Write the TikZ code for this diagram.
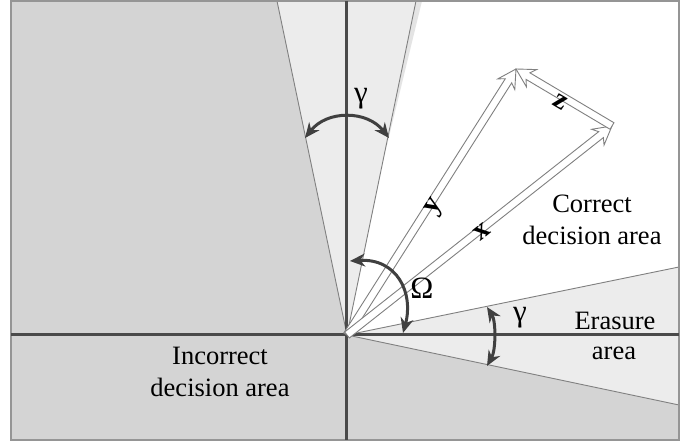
\documentclass[tikz,border=0pt]{standalone}
\usepackage{fontspec}
\setmainfont{Liberation Serif}
\usetikzlibrary{calc,arrows.meta}
\definecolor{darkreg}{HTML}{D4D4D4}
\definecolor{lightreg}{HTML}{ECECEC}
\definecolor{shadowreg}{HTML}{E4E4E4}
\definecolor{axisc}{HTML}{4A4A4A}
\definecolor{arcc}{HTML}{404040}
\definecolor{edgec}{HTML}{808080}
\definecolor{framec}{HTML}{959595}
\tikzset{
  wedgeline/.style={draw=edgec, line width=0.9pt},
  framebox/.style={draw=framec, line width=1.8pt},
  axisline/.style={draw=axisc, line width=3pt},
  vecline/.style={draw=edgec, fill=white, line width=0.9pt, line join=miter},
  anglearc/.style={draw=arcc, line width=3pt, {Stealth[length=15pt,width=13pt]}-{Stealth[length=15pt,width=13pt]}},
  greek/.style={font=\fontsize{31}{31}\selectfont, inner sep=0pt},
  veclabel/.style={font=\fontsize{29}{29}\selectfont\bfseries, inner sep=0pt},
  areatext/.style={anchor=base, inner sep=0pt}
}
\newcommand\hollowvec[2]{%
  \coordinate (#1#2j) at ($(#2)!14pt!(#1)$);
  \coordinate (#1#2g) at ($(#2)!18pt!(#1)$);
  \draw[vecline] ($(#1)!3.8pt!90:(#2)$) -- ($(#1#2j)!3.8pt!-90:(#1)$) -- ($(#1#2g)!10pt!-90:(#1)$) -- (#2)
     -- ($(#1#2g)!10pt!90:(#1)$) -- ($(#1#2j)!3.8pt!90:(#1)$) -- ($(#1)!3.8pt!-90:(#2)$) -- cycle;}
\begin{document}
\begin{tikzpicture}[x=1pt, y=1pt, font=\fontsize{26.5}{32}\selectfont]
\useasboundingbox (-347,-108) rectangle (350,335);
% key points
\coordinate (O) at (0,0);
\coordinate (TL) at (-336,334);
\coordinate (TR) at (332,334);
\coordinate (BR) at (332,-105);
\coordinate (GL) at (-70,334);
\coordinate (GR) at (69,334);
\coordinate (GS) at (75,334);
\coordinate (GSb) at (39,186);
\coordinate (EU) at (332,68);
\coordinate (EL) at (332,-70);
% regions
\fill[darkreg] (TL) rectangle (BR);
\fill[lightreg] (O) -- (GL) -- (GR) -- cycle;
\fill[white] (O) -- (GR) -- (TR) -- (EU) -- cycle;
\fill[shadowreg] (GR) -- (GS) -- (GSb) -- cycle;
\fill[lightreg] (O) -- (EU) -- (EL) -- cycle;
\draw[wedgeline] (GL) -- (O) -- (GR);
\draw[wedgeline] (EU) -- (O) -- (EL);
\draw[framebox] (TL) rectangle (BR);
% axes
\coordinate (AL) at (-336,0);
\coordinate (AR) at (332,0);
\coordinate (AT) at (0,334);
\coordinate (AB) at (0,-105);
\draw[axisline] (AL) -- (AR);
\draw[axisline] (AT) -- (AB);
% vectors
\coordinate (Y) at (169,266);
\coordinate (X) at (265,209);
\hollowvec{O}{Y}
\hollowvec{O}{X}
\hollowvec{X}{Y}
% angle arcs
\coordinate (g1) at (-42,197);
\coordinate (g2) at (42,197);
\draw[anglearc] (g1) .. controls (-20,225) and (20,225) .. (g2);
\coordinate (w1) at (3,74);
\coordinate (w2) at (56,2);
\draw[anglearc] (w1) .. controls (50,77) and (67,42) .. (w2);
\coordinate (e1) at (140,28);
\coordinate (e2) at (140,-31);
\draw[anglearc] (e1) .. controls (149,14) and (149,-15) .. (e2);
% labels
\node[greek] (gtop) at (14,236) {γ};
\node[greek] (om) at (75,47) {Ω};
\node[greek] (gera) at (173,17) {γ};
\node[veclabel, rotate=57.5] (ly) at (88,128) {y};
\node[veclabel, rotate=38.4] (lx) at (135,103) {x};
\node[veclabel, rotate=-30.5] (lz) at (213,233) {z};
\node[areatext] (cor1) at (245,122) {Correct};
\node[areatext] (cor2) at (245,90) {decision area};
\node[areatext] (era1) at (268,5) {Erasure};
\node[areatext] (era2) at (267,-25) {area};
\node[areatext] (inc1) at (-127,-30) {Incorrect};
\node[areatext] (inc2) at (-127,-62) {decision area};
\end{tikzpicture}
\end{document}
